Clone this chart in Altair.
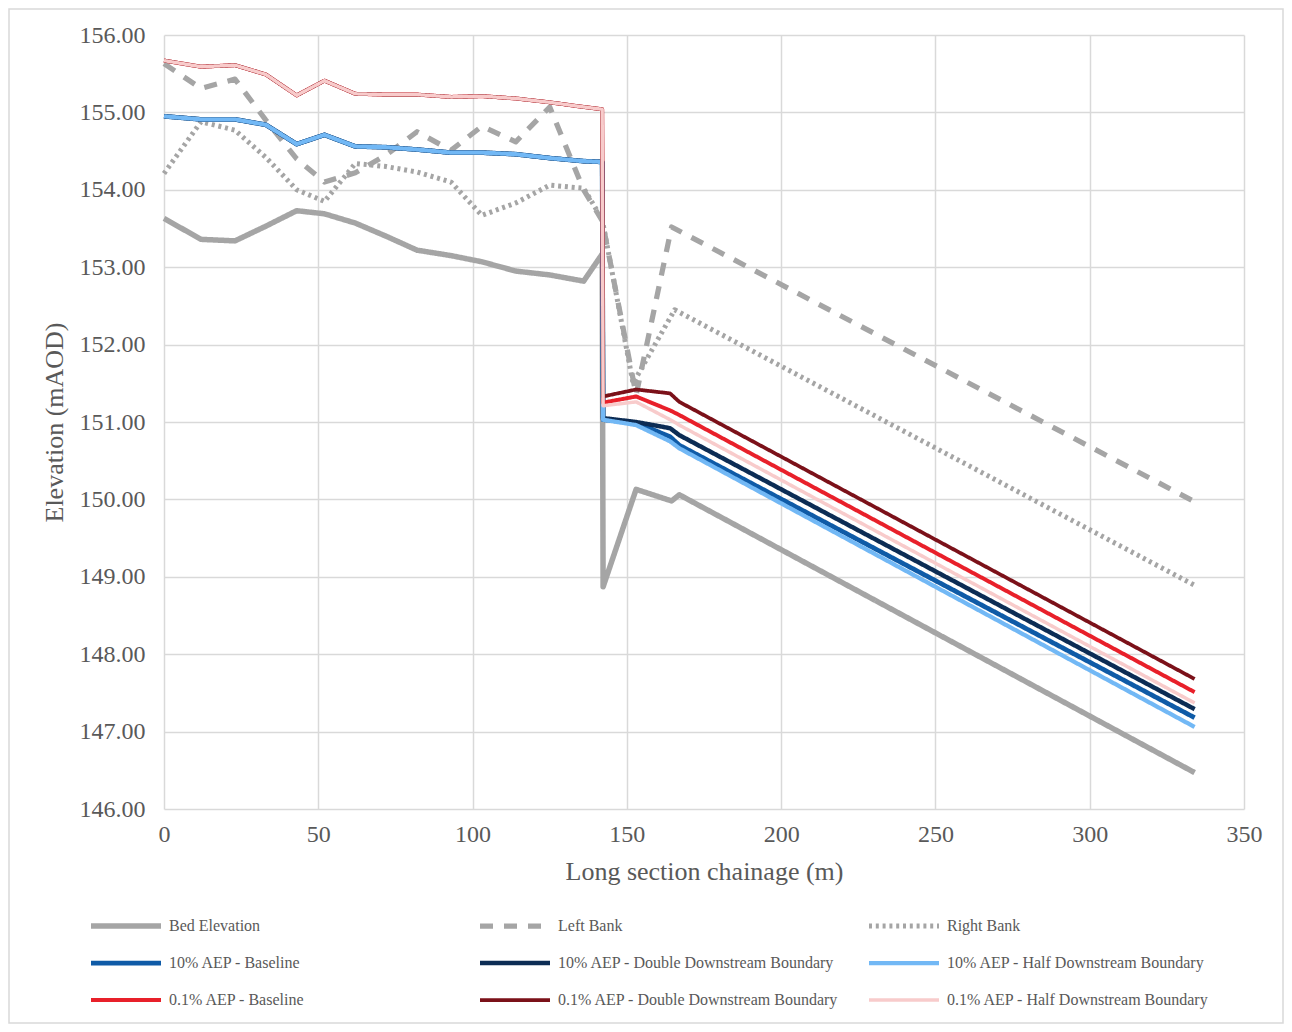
import altair as alt
import pandas as pd

# ---------------- data ----------------
series_names = [
    "Bed Elevation",
    "Left Bank",
    "Right Bank",
    "10% AEP - Baseline",
    "10% AEP - Double Downstream Boundary",
    "10% AEP - Half Downstream Boundary",
    "0.1% AEP - Baseline",
    "0.1% AEP - Double Downstream Boundary",
    "0.1% AEP - Half Downstream Boundary",
]

ch_bed = [0, 12, 23, 33, 43, 52, 62, 72, 82, 93, 103, 114, 125, 136, 142, 142.3, 153, 164.5, 167, 334]
bed = [153.63, 153.36, 153.34, 153.53, 153.73, 153.69, 153.57, 153.40, 153.22, 153.15, 153.07,
       152.95, 152.90, 152.82, 153.17, 148.87, 150.13, 149.98, 150.06, 146.47]

ch_left = [0, 12, 23, 33, 43, 52, 62, 72, 82, 93, 103, 114, 125, 136, 142, 153, 164.5, 334]
left_bank = [155.63, 155.31, 155.43, 154.90, 154.40, 154.10, 154.22, 154.45, 154.75, 154.51, 154.82,
             154.62, 155.07, 154.00, 153.60, 151.35, 153.52, 149.97]

ch_right = [0, 12, 23, 33, 43, 52, 62, 72, 82, 93, 103, 114, 125, 136, 142, 152, 165.5, 334]
right_bank = [154.21, 154.88, 154.77, 154.42, 154.00, 153.85, 154.34, 154.30, 154.23, 154.10, 153.67,
              153.83, 154.06, 154.02, 153.62, 151.50, 152.45, 148.89]

ch_up = [0, 12, 23, 33, 43, 52, 62, 72, 82, 93, 103, 114, 125, 136, 142]
w10_up = [154.95, 154.91, 154.91, 154.84, 154.59, 154.71, 154.56, 154.55, 154.52, 154.48, 154.48,
          154.46, 154.41, 154.37, 154.36]
w01_up = [155.67, 155.59, 155.61, 155.49, 155.22, 155.41, 155.24, 155.23, 155.23, 155.20, 155.21,
          155.18, 155.13, 155.07, 155.04]

ch_dn = [142.3, 153, 164, 167, 334]
w10_base_dn = [151.03, 150.99, 150.81, 150.70, 147.18]
w10_double_dn = [151.05, 151.00, 150.92, 150.83, 147.29]
w10_half_dn = [151.03, 150.96, 150.75, 150.66, 147.06]
w01_base_dn = [151.25, 151.33, 151.15, 151.09, 147.51]
w01_double_dn = [151.33, 151.42, 151.37, 151.26, 147.68]
w01_half_dn = [151.21, 151.26, 151.03, 150.96, 147.37]

colors = ["#a5a5a5", "#a5a5a5", "#a5a5a5", "#0f5ba7", "#0c2c54", "#72b8f5", "#e8202a", "#7b1119", "#f8cbcb"]
dashes = [[1, 0], [13, 11], [3, 3.8], [1, 0], [1, 0], [1, 0], [1, 0], [1, 0], [1, 0]]
widths = [5.5, 3.5, 3, 3, 3, 3, 3, 3, 3.5]

series_x = [ch_bed, ch_left, ch_right,
            ch_up + ch_dn, ch_up + ch_dn, ch_up + ch_dn,
            ch_up + ch_dn, ch_up + ch_dn, ch_up + ch_dn]
series_y = [bed, left_bank, right_bank,
            w10_up + w10_base_dn, w10_up + w10_double_dn, w10_up + w10_half_dn,
            w01_up + w01_base_dn, w01_up + w01_double_dn, w01_up + w01_half_dn]

rows = []
for i, (name, xs, ys) in enumerate(zip(series_names, series_x, series_y)):
    for x, y in zip(xs, ys):
        rows.append({"series": name, "order": i, "chainage": x, "elev": y})
df = pd.DataFrame(rows)

# ---------------- chart ----------------
FONT = "Liberation Serif"
TXT = "#595959"

legend = alt.Legend(
    title=None,
    orient="none",
    direction="horizontal",
    legendX=-76,
    legendY=881,
    columns=3,
    gridAlign="all",
    columnPadding=27,
    rowPadding=17,
    clipHeight=20,
    symbolType="stroke",
    symbolSize=4900,
    labelFont=FONT,
    labelFontSize=16,
    labelColor=TXT,
    labelLimit=400,
    labelOffset=5,
    padding=0,
)

lines = alt.Chart(df).mark_line(strokeJoin="round", strokeCap="butt").encode(
    x=alt.X("chainage:Q",
            scale=alt.Scale(domain=[0, 350], nice=False),
            axis=alt.Axis(values=list(range(0, 351, 50)), title="Long section chainage (m)",
                          labelPadding=13, titlePadding=12, labelFlush=False)),
    y=alt.Y("elev:Q",
            scale=alt.Scale(domain=[146, 156], nice=False, zero=False),
            axis=alt.Axis(values=list(range(146, 157)), format=".2f", title="Elevation (mAOD)",
                          labelPadding=19, titlePadding=12, labelFlush=False)),
    color=alt.Color("series:N", scale=alt.Scale(domain=series_names, range=colors), legend=legend, title=None),
    strokeDash=alt.StrokeDash("series:N", scale=alt.Scale(domain=series_names, range=dashes), legend=legend, title=None),
    strokeWidth=alt.StrokeWidth("series:N", scale=alt.Scale(domain=series_names, range=widths), legend=legend, title=None),
    order=alt.Order("chainage:Q"),
)

frame = alt.Chart(pd.DataFrame({"a": [0]})).mark_rect(
    fillOpacity=0, stroke="#d9d9d9", strokeWidth=1.5
).encode(
    x=alt.value(-155), x2=alt.value(1119), y=alt.value(-26), y2=alt.value(988)
)

chart = alt.layer(frame, lines).properties(
    width=1080,
    height=774,
    autosize=alt.AutoSizeParams(type="none"),
    padding={"left": 156, "top": 27, "right": 40, "bottom": 215},
).configure_view(
    stroke=None
).configure_axis(
    labelFont=FONT,
    labelFontSize=24,
    labelColor=TXT,
    titleFont=FONT,
    titleFontSize=26,
    titleColor=TXT,
    titleFontWeight="normal",
    gridColor="#d9d9d9",
    gridWidth=1.5,
    domain=False,
    ticks=False,
).configure_legend(
    labelFont=FONT,
    labelFontSize=16,
    labelColor=TXT,
    labelLimit=400,
)

chart.save("out.html", embed_options={"renderer": "svg", "actions": False})
